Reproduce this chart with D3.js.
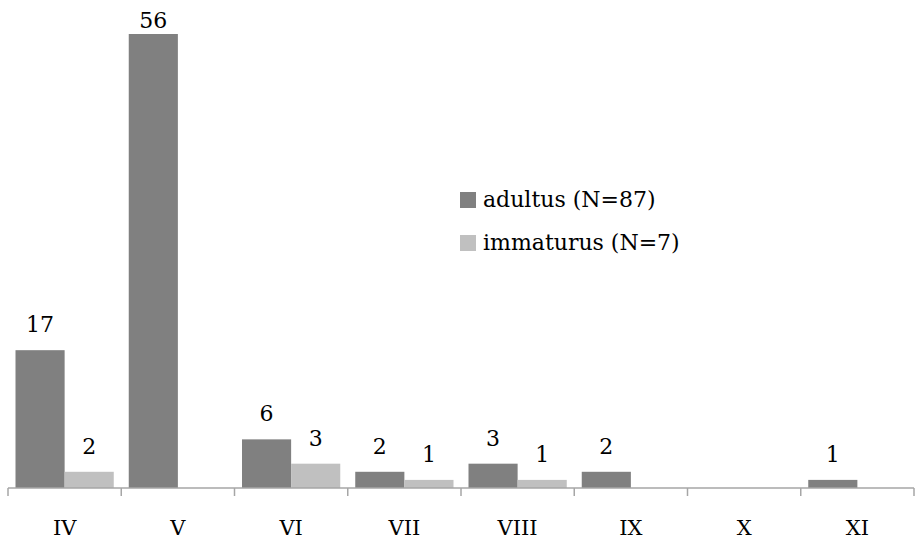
<!DOCTYPE html>
<html>
<head>
<meta charset="utf-8">
<script src="https://cdn.jsdelivr.net/npm/d3@7"></script>
<style>
body{margin:0;background:#fff;}
svg text{font-family:"DejaVu Serif",serif;fill:#000;}
</style>
</head>
<body>
<svg id="chart" width="915" height="539"></svg>
<script>
var months = ["IV","V","VI","VII","VIII","IX","X","XI"];
var adultus = [17,56,6,2,3,2,0,1];
var immaturus = [2,0,3,1,1,0,0,0];
var seriesNames = ["adultus (N=87)","immaturus (N=7)"];
var seriesColors = ["#808080","#c0c0c0"];

var svg = d3.select("#chart");
var left = 8, right = 914, base = 488;

var x0 = d3.scaleBand().domain(months).range([left,right]).padding(0);
var x1 = d3.scaleBand().domain([0,1]).range([7.5, x0.bandwidth()-7.5]).padding(0);
var y = d3.scaleLinear().domain([0,56]).range([base,34]);

var rows = months.map(function(m,i){ return {m:m, v:[adultus[i],immaturus[i]]}; });

var g = svg.selectAll("g.grp").data(rows).enter().append("g")
	.attr("class","grp")
	.attr("transform",function(d){ return "translate("+x0(d.m)+",0)"; });

g.each(function(d){
	var grp = d3.select(this);
	d.v.forEach(function(v,k){
		if (v <= 0) return;
		grp.append("rect")
			.attr("x",x1(k))
			.attr("width",x1.bandwidth())
			.attr("y",y(v))
			.attr("height",base - y(v))
			.attr("fill",seriesColors[k]);
		grp.append("text")
			.attr("x",x1(k)+x1.bandwidth()/2)
			.attr("y",Math.max(y(v)-18, 28))
			.attr("text-anchor","middle")
			.attr("font-size",22)
			.text(v);
	});
});

// axis line + ticks
var ax = svg.append("g").attr("transform","translate(0,"+base+")");
ax.append("line").attr("x1",left).attr("x2",right).attr("stroke","#a6a6a6").attr("stroke-width",1.5);
ax.selectAll("line.tk").data(months.concat(["end"])).enter().append("line")
	.attr("class","tk")
	.attr("x1",function(d){ return d==="end" ? right : x0(d); })
	.attr("x2",function(d){ return d==="end" ? right : x0(d); })
	.attr("y1",0).attr("y2",8)
	.attr("stroke","#a6a6a6").attr("stroke-width",1.5);
ax.selectAll("text.lbl").data(months).enter().append("text")
	.attr("class","lbl")
	.attr("x",function(d){ return x0(d)+x0.bandwidth()/2; })
	.attr("y",47)
	.attr("text-anchor","middle")
	.attr("font-size",21)
	.text(function(d){ return d; });

// legend
var lg = svg.selectAll("g.lg").data(seriesNames).enter().append("g")
	.attr("class","lg")
	.attr("transform",function(d,i){ return "translate(460,"+(192+i*43)+")"; });
lg.append("rect").attr("width",16).attr("height",16).attr("fill",function(d,i){ return seriesColors[i]; });
lg.append("text").attr("x",23).attr("y",15).attr("font-size",22).text(function(d){ return d; });
</script>
</body>
</html>
